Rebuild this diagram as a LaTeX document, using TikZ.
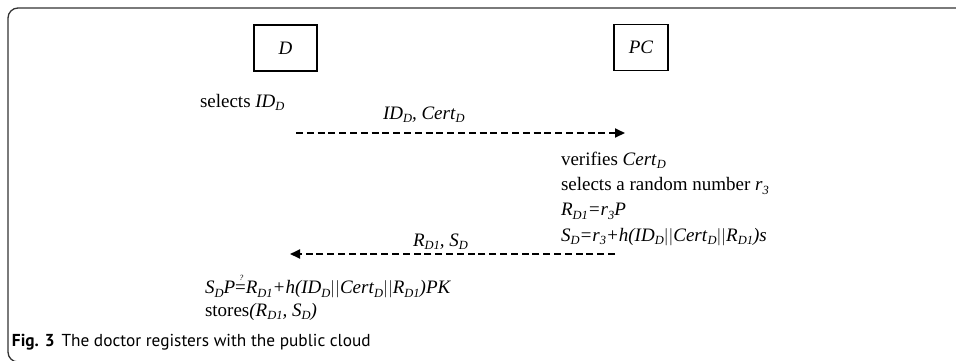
\documentclass[tikz,border=0pt]{standalone}
\usepackage{fontspec}
\setmainfont{Liberation Serif}
\newfontfamily\capfont{PT Sans}
\usetikzlibrary{arrows.meta}
\newcommand{\sbs}[1]{\raisebox{-0.2em}{\fontsize{12.5}{12.5}\selectfont\itshape #1}}
\newcommand{\qeq}{\makebox[0pt][l]{\raisebox{0.68em}{\hspace{0.22em}\fontsize{8}{8}\selectfont\itshape ?}}=}
\begin{document}
\begin{tikzpicture}[x=1pt,y=-1pt,
  every node/.style={inner sep=0pt,outer sep=0pt},
  txt/.style={anchor=base west,font=\fontsize{19}{23}\selectfont},
  party/.style={draw,line width=1.2pt,minimum width=#1,minimum height=46pt,font=\fontsize{19}{23}\selectfont\itshape},
  msg/.style={line width=1.8pt,dash pattern=on 7pt off 3.8pt,-{Triangle[length=10pt,width=9pt]}}]
\useasboundingbox (0,0) rectangle (956,360);
% frame
\begin{scope}
\clip (0,0) rectangle (956,360);
\draw[line width=1.3pt,draw=black!80,rounded corners=10pt] (970,8) -- (8,8) -- (8,362) -- (30,362);
\end{scope}
% parties
\node[party=63pt] (D) at (285.5,48) {D};
\node[party=54pt] (PC) at (641,47.5) {PC};
% texts
\node[txt] (t1) at (200,107) {selects \textit{ID}\sbs{D}};
\node[txt] (l1) at (383,119) {\textit{ID}\sbs{D}\textit{, Cert}\sbs{D}};
\node[txt] (v1) at (561,165) {verifies \textit{Cert}\sbs{D}};
\node[txt] (v2) at (561,190.3) {selects a random number \textit{r}\sbs{3}};
\node[txt] (v3) at (561,215.6) {\textit{R}\sbs{D1}\textit{=r}\sbs{3}\textit{P}};
\node[txt] (v4) at (561,241) {\textit{S}\sbs{D}\textit{=r}\sbs{3}\textit{+h(ID}\sbs{D}\textit{$|$$|$Cert}\sbs{D}\textit{$|$$|$R}\sbs{D1}\textit{)s}};
\node[txt] (l2) at (413,246) {\textit{R}\sbs{D1}\textit{, S}\sbs{D}};
\node[txt] (w1) at (205,293.5) {\textit{S}\sbs{D}\textit{P}\qeq\textit{R}\sbs{D1}\textit{+h(ID}\sbs{D}\textit{$|$$|$Cert}\sbs{D}\textit{$|$$|$R}\sbs{D1}\textit{)PK}};
\node[txt] (w2) at (205,316) {stores\textit{(R}\sbs{D1}\textit{, S}\sbs{D}\textit{)}};
\node[anchor=base west,font=\capfont\fontsize{17.3}{21}\selectfont] (cap) at (12,346) {\textbf{Fig. 3}\hspace{0.4em}The doctor registers with the public cloud};
% messages
\coordinate (m1s) at (296,133);
\coordinate (m1e) at (625,133);
\coordinate (m2s) at (615,254);
\coordinate (m2e) at (290,254);
\draw[msg] (m1s) -- (m1e);
\draw[msg] (m2s) -- (m2e);
\end{tikzpicture}
\end{document}
